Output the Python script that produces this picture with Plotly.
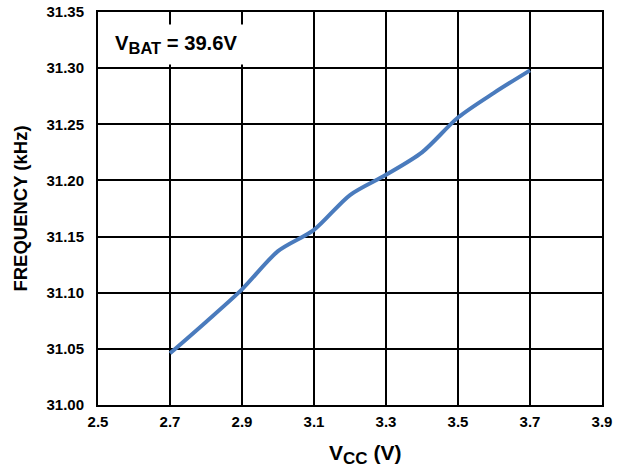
import plotly.graph_objects as go

vcc = [2.7, 2.8, 2.9, 3.0, 3.1, 3.2, 3.3, 3.4, 3.5, 3.6, 3.7]
freq = [31.046, 31.074, 31.103, 31.137, 31.156, 31.187, 31.205, 31.225, 31.256, 31.278, 31.298]
x_ticks = [2.5, 2.7, 2.9, 3.1, 3.3, 3.5, 3.7, 3.9]
y_ticks = [31.00, 31.05, 31.10, 31.15, 31.20, 31.25, 31.30, 31.35]

font = "Liberation Sans, Arial, sans-serif"
tf = dict(family=font, size=15, color="black", weight="bold")

fig = go.Figure()
fig.add_trace(go.Scatter(x=vcc, y=freq, mode="lines",
                         line=dict(color="#4a7bbd", width=4, shape="spline", smoothing=0.8),
                         showlegend=False))

fig.update_layout(
    width=625, height=470,
    margin=dict(l=98, r=23, t=12, b=65, autoexpand=False),
    paper_bgcolor="white", plot_bgcolor="white",
    font=dict(family=font, size=15, color="black"),
    xaxis=dict(range=[2.5, 3.9], tickvals=x_ticks, ticktext=[f"{v:.1f}" for v in x_ticks],
               showgrid=True, gridcolor="black", gridwidth=2, automargin=False,
               showline=True, linecolor="black", linewidth=2, mirror=True,
               zeroline=False, ticks="", tickfont=tf, ticklabelstandoff=2,
               ticklabeloverflow="allow"),
    yaxis=dict(range=[31.00, 31.35], tickvals=y_ticks, ticktext=[f"{v:.2f}" for v in y_ticks],
               showgrid=True, gridcolor="black", gridwidth=2, automargin=False,
               showline=True, linecolor="black", linewidth=2, mirror=True,
               zeroline=False, ticks="", tickfont=tf, ticklabelstandoff=9,
               ticklabeloverflow="allow",
               title=dict(text="FREQUENCY (kHz)", font=dict(family=font, size=18.5, weight="bold"), standoff=14)),
)

# x-axis title (slightly right of centre, as in the reference)
fig.add_annotation(xref="paper", yref="paper", x=0.53, y=-0.127, xanchor="center", yanchor="middle",
                   text="V<sub><span style='font-size:17px'>CC</span></sub> (V)", showarrow=False,
                   font=dict(family=font, size=21, color="black", weight="bold"))

fig.add_annotation(xref="paper", yref="paper", x=0.018, y=0.97, xanchor="left", yanchor="top",
                   text="V<sub><span style='font-size:16.5px'>BAT</span></sub> = 39.6V", showarrow=False,
                   font=dict(family=font, size=20.2, color="black", weight="bold"),
                   bgcolor="white", borderpad=7)

fig.write_html("out.html", config={"displayModeBar": False},
               post_script="document.body.style.margin='0';")
